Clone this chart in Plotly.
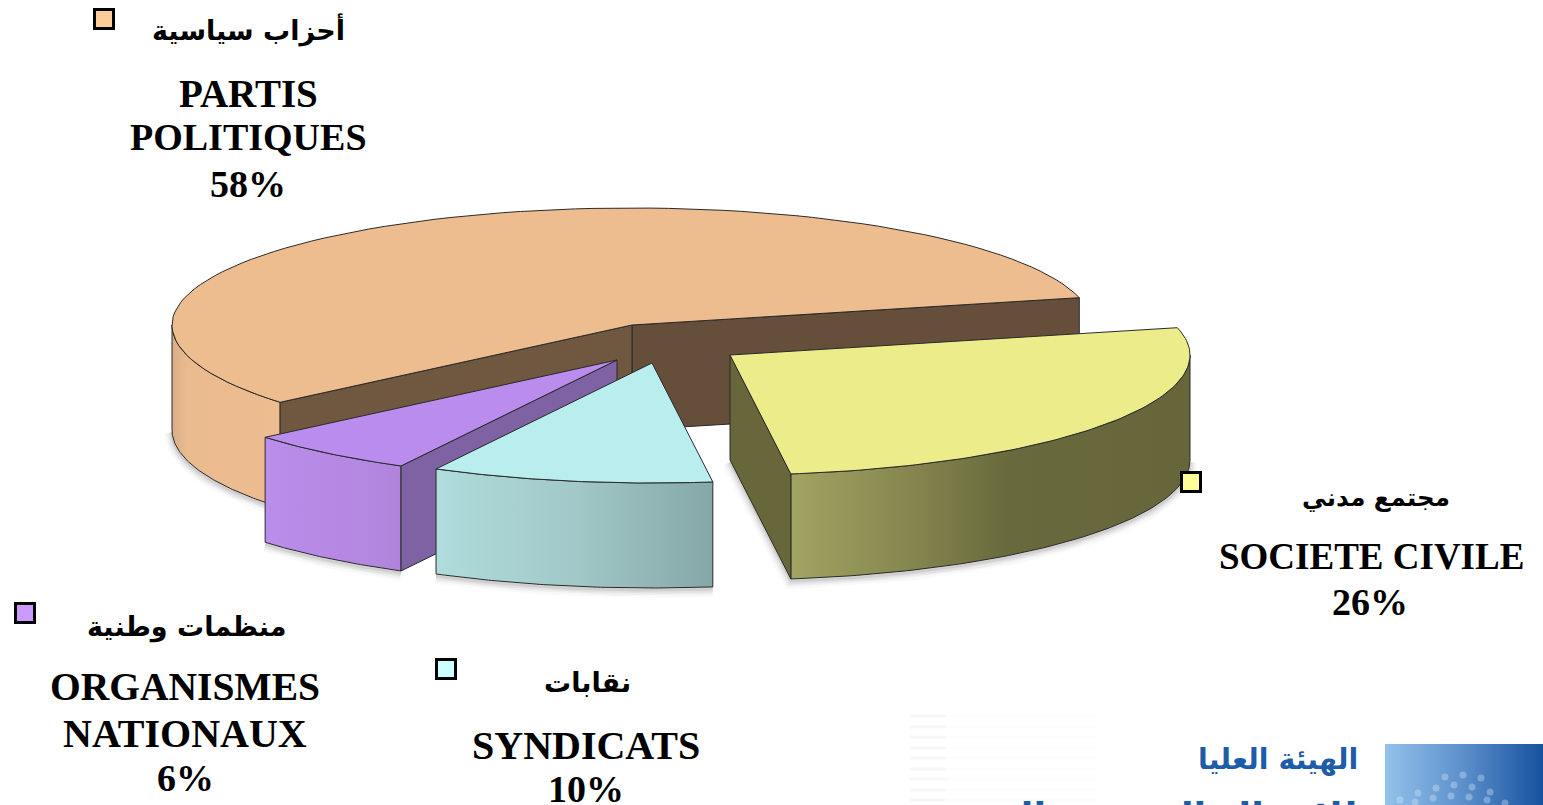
import numpy as np
import plotly.graph_objects as go

# ---- data ----
arabic_labels = ["أحزاب سياسية", "منظمات وطنية", "نقابات", "مجتمع مدني"]
french_labels = [["PARTIS", "POLITIQUES"], ["ORGANISMES", "NATIONAUX"], ["SYNDICATS"], ["SOCIETE CIVILE"]]
shares = [58, 6, 10, 26]

# ---- style / layout ----
W, H = 1543, 805
CX, CY, RX, DEPTH = 632, 325, 460, 105
RY_BACK, RY_FRONT = 117, 120
START_ANGLE = 13.5
# perspective correction of the slice boundaries, in degrees
perspective_nudge = [0, -2.2, -1.9, -2.3, 0]
explode = [(0, 0), (-15, 35), (20, 38), (98, 30)]
top_colors = ["#EDBC8F", "#B98CEE", "#BAEDEE", "#ECEC8A"]
# cut-face colours: (face at the start of the slice, face at its end)
face_colors = [("#654E3A", "#6F5740"), ("#7F62A3", "#7F62A3"), ("#8FB0B0", "#8FB0B0"), ("#67673B", "#67673B")]
key_colors = ["#FFCC99", "#CC99FF", "#CCFFFF", "#FFFF99"]
side_scales = [
    [[0, "#D9AE86"], [0.15, "#EBBB90"], [1, "#EDBC8F"]],
    [[0, "#BB8DEC"], [1, "#B184DC"]],
    [[0, "#AFDCDC"], [0.5, "#A2C8C8"], [1, "#85A7A7"]],
    [[0, "#A2A462"], [0.3, "#85864F"], [0.55, "#68693C"], [1, "#66663A"]],
]
key_pos = [(104, 19), (25, 613), (446, 669), (1191, 482)]
arabic_pos = [(248, 30), (186, 627), (587, 682), (1376, 497)]
arabic_size = [27, 27, 27, 24.5]
french_pos = [[(248, 93), (248, 137)], [(185, 687), (185, 733)], [(586, 745)], [(1371, 556)]]
french_size = [[39, 38], [39.5, 40], [40], [37]]
pct_pos = [(248, 184), (185, 778), (586, 789), (1370, 602)]

LATIN = "Liberation Serif"
ARABIC = "DejaVu Sans"
EDGE = dict(color="#2A2A2A", width=1)

fig = go.Figure()


def poly(x, y, color=None, line=EDGE, gradient=None):
    kw = dict(x=x, y=y, mode="lines", line=line, fill="toself", hoverinfo="skip")
    if gradient:
        kw["fillgradient"] = dict(type="horizontal", colorscale=gradient)
    else:
        kw["fillcolor"] = color
    fig.add_trace(go.Scatter(**kw))


# wedge angles come from the shares
bounds = START_ANGLE + np.cumsum([0] + [s * 3.6 for s in shares]) + np.array(perspective_nudge)
wedges = []
for i in range(len(shares)):
    dx, dy = explode[i]
    wedges.append(dict(t0=bounds[i], t1=bounds[i + 1], ax=CX + dx, ay=CY + dy))


def rim_point(w, deg):
    t = np.radians(deg)
    s = np.sin(t)
    return w["ax"] + RX * np.cos(t), w["ay"] - np.where(s < 0, RY_FRONT, RY_BACK) * s


def arc(w, a, b, drop=0):
    x, y = rim_point(w, np.linspace(a, b, 90))
    return x, y + drop


def visible_arc(w):
    # the part of the rim that faces the viewer (sin < 0)
    return max(w["t0"], 180), min(w["t1"], 360)


# ---- soft shadows ----
for i, w in enumerate(wedges):
    xs, ys = arc(w, *visible_arc(w), drop=DEPTH + 2)
    if i == 3:
        xs = np.concatenate([[w["ax"]], xs])
        ys = np.concatenate([[w["ay"] + DEPTH + 2], ys])
    for width, alpha in [(16, 0.025), (11, 0.04), (7, 0.05), (3, 0.08)]:
        fig.add_trace(go.Scatter(x=xs, y=ys, mode="lines", hoverinfo="skip",
                                 line=dict(color=f"rgba(0,0,0,{alpha})", width=width)))

# ---- slices, back to front ----
for i, w in enumerate(wedges):
    # rim
    rng = visible_arc(w)
    ax_top, ay_top = arc(w, *rng)
    ax_bot, ay_bot = arc(w, *rng, drop=DEPTH)
    poly(np.concatenate([ax_top, ax_bot[::-1], ax_top[:1]]),
         np.concatenate([ay_top, ay_bot[::-1], ay_top[:1]]),
         gradient=side_scales[i])
    # cut faces that turn toward the viewer
    for k, (t, normal) in enumerate(((w["t0"], w["t0"] - 90), (w["t1"], w["t1"] + 90))):
        if np.sin(np.radians(normal)) < 0:
            ex, ey = rim_point(w, t)
            ey = float(ey)
            poly([w["ax"], ex, ex, w["ax"], w["ax"]],
                 [w["ay"], ey, ey + DEPTH, w["ay"] + DEPTH, w["ay"]],
                 color=face_colors[i][k])
    # top
    tx, ty = arc(w, w["t0"], w["t1"])
    poly(np.concatenate([[w["ax"]], tx, [w["ax"]]]),
         np.concatenate([[w["ay"]], ty, [w["ay"]]]),
         color=top_colors[i])

# ---- legend keys ----
fig.add_trace(go.Scatter(
    x=[p[0] for p in key_pos], y=[p[1] for p in key_pos], mode="markers", hoverinfo="skip",
    marker=dict(symbol="square", size=19, color=key_colors, line=dict(color="#000000", width=3))))


# ---- labels ----
def label(text, pos, size, family, color="#000000", **kw):
    fig.add_annotation(x=pos[0], y=pos[1], text=text, showarrow=False, xref="x", yref="y",
                       font=dict(family=family, size=size, color=color), **kw)


for i in range(len(shares)):
    label(f"<b>{arabic_labels[i]}</b>", arabic_pos[i], arabic_size[i], ARABIC)
    for line_text, pos, size in zip(french_labels[i], french_pos[i], french_size[i]):
        label(f"<b>{line_text}</b>", pos, size, LATIN)
    label(f"<b>{shares[i]}%</b>", pct_pos[i], 38, LATIN)

# ---- logo in the corner ----
logo_lines = ["الهيئة العليا", "للاتصال السمعي البصري"]
stripe_y = [716, 727, 737, 748, 758, 769, 779, 790, 800]
for y in stripe_y:
    fig.add_trace(go.Scatter(x=[910, 945], y=[y, y], mode="lines", hoverinfo="skip",
                             line=dict(color="rgba(0,0,0,0.035)", width=3)))
    fig.add_trace(go.Scatter(x=[945, 1095], y=[y, y], mode="lines", hoverinfo="skip",
                             line=dict(color="rgba(0,0,0,0.012)", width=3)))
poly([1385, 1543, 1543, 1385, 1385], [744, 744, 805, 805, 744],
     line=dict(width=0, color="rgba(0,0,0,0)"),
     gradient=[[0, "#93C2EA"], [0.5, "#5B8FCB"], [1, "#17529F"]])
dot_x = [1400, 1418, 1436, 1454, 1472, 1490, 1415, 1433, 1451, 1469, 1487, 1505, 1445, 1463, 1481]
dot_y = [800, 793, 788, 785, 787, 792, 802, 798, 796, 797, 800, 803, 777, 775, 778]
fig.add_trace(go.Scatter(x=dot_x, y=dot_y, mode="markers", hoverinfo="skip",
                         marker=dict(size=7, color="rgba(220,235,250,0.35)")))
label(f"<b>{logo_lines[0]}</b>", (1360, 759), 28.5, ARABIC, "#1D5CA8", xanchor="right")
label(f"<b>{logo_lines[1]}</b>", (1360, 800), 37, ARABIC, "#1D5CA8", xanchor="right", yshift=-16)

fig.update_layout(
    width=W, height=H, margin=dict(l=0, r=0, t=0, b=0), showlegend=False,
    paper_bgcolor="#FFFFFF", plot_bgcolor="#FFFFFF",
    xaxis=dict(visible=False, range=[0, W], fixedrange=True),
    yaxis=dict(visible=False, range=[H, 0], fixedrange=True),
)
fig.write_html("out.html", config={"displayModeBar": False},
               post_script="document.body.style.margin='0';document.documentElement.style.overflow='hidden';")
